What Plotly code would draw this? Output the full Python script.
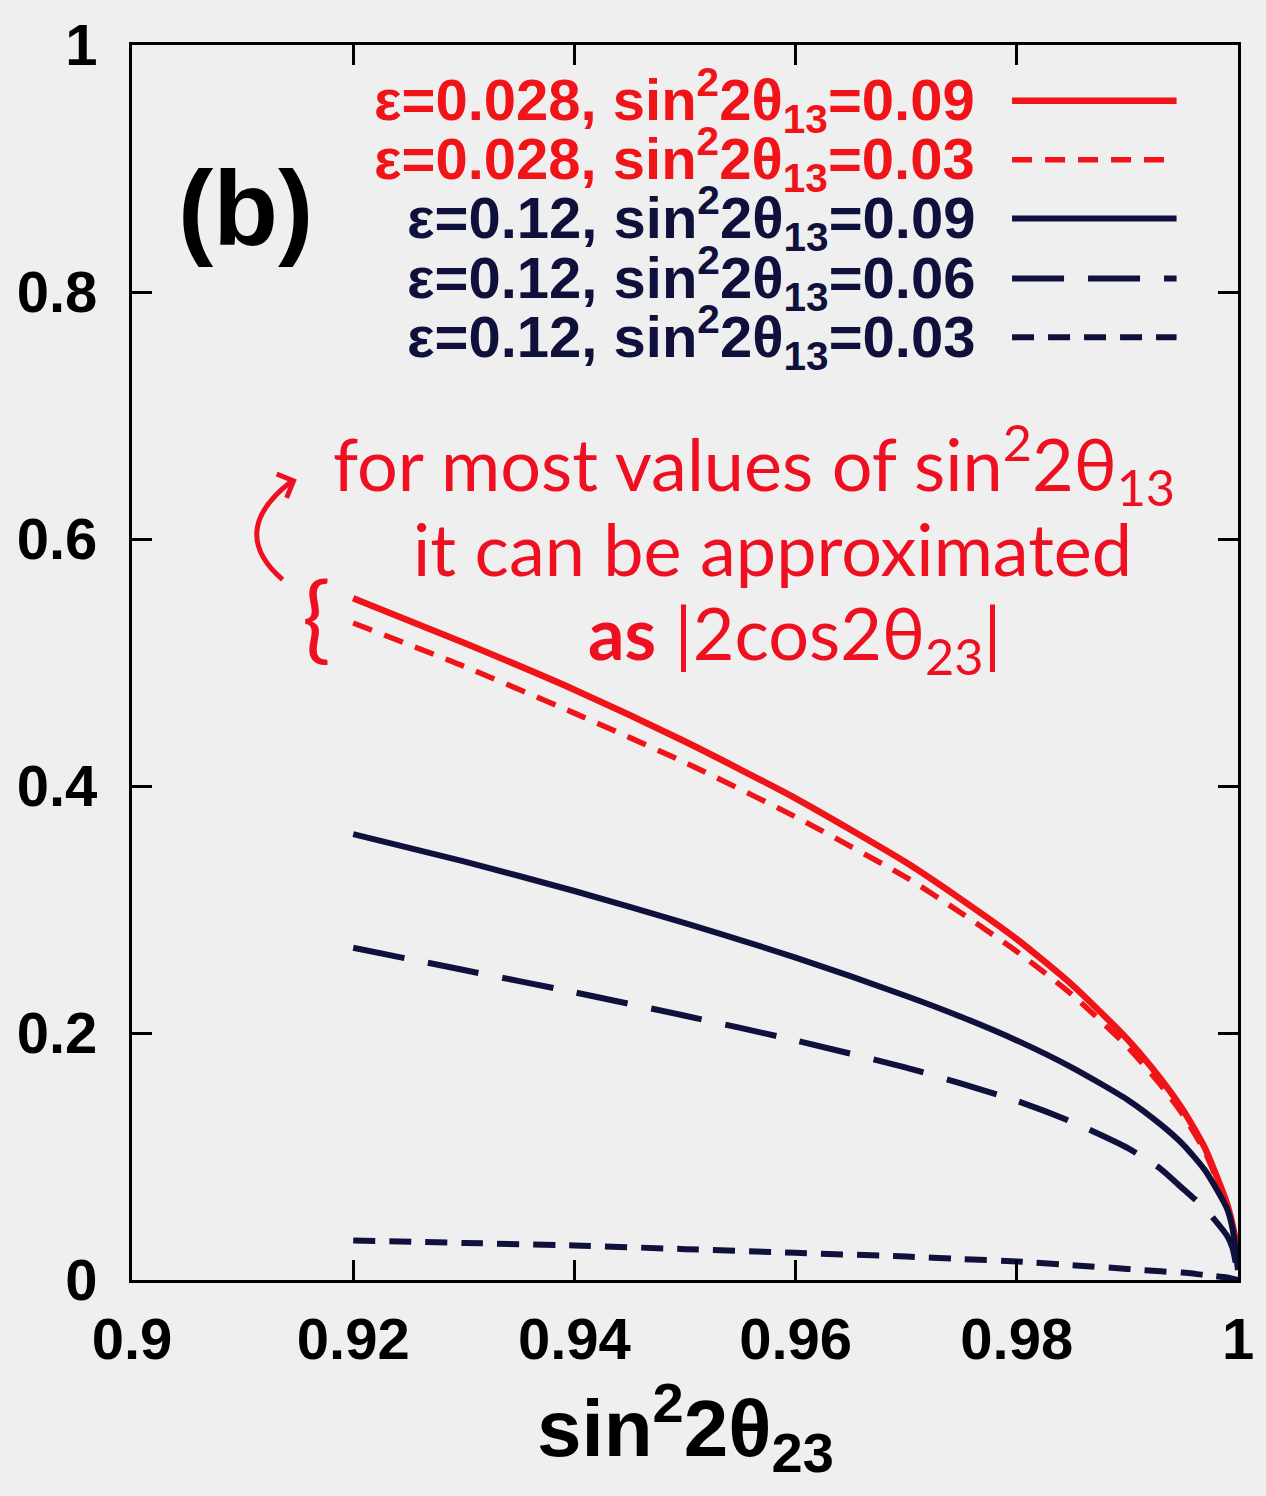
import plotly.graph_objects as go

# ---------------- data ----------------
x_vals = [0.92, 0.93, 0.94, 0.95, 0.96, 0.97, 0.975, 0.98, 0.985, 0.99, 0.993, 0.995, 0.997, 0.999, 0.9995, 1.0]

red_solid_09 = [0.552, 0.516, 0.478, 0.436, 0.390, 0.338, 0.308, 0.276, 0.239, 0.195, 0.163, 0.138, 0.107, 0.062, 0.045, 0.022]
red_dash_03 = [0.532, 0.497, 0.459, 0.419, 0.375, 0.326, 0.297, 0.266, 0.231, 0.189, 0.158, 0.134, 0.104, 0.060, 0.043, 0.020]
navy_solid_09 = [0.361, 0.339, 0.315, 0.289, 0.261, 0.230, 0.213, 0.194, 0.172, 0.146, 0.126, 0.110, 0.089, 0.058, 0.042, 0.008]
navy_ldash_06 = [0.269, 0.251, 0.233, 0.214, 0.194, 0.172, 0.159, 0.145, 0.128, 0.107, 0.090, 0.074, 0.058, 0.036, 0.026, 0.004]
navy_sdash_03 = [0.032, 0.030, 0.028, 0.025, 0.022, 0.019, 0.017, 0.015, 0.012, 0.009, 0.007, 0.006, 0.004, 0.002, 0.001, 0.0]

legend_labels = [
    "ε=0.028, sin<sup>2</sup>2θ<sub>13</sub>=0.09",
    "ε=0.028, sin<sup>2</sup>2θ<sub>13</sub>=0.03",
    "ε=0.12, sin<sup>2</sup>2θ<sub>13</sub>=0.09",
    "ε=0.12, sin<sup>2</sup>2θ<sub>13</sub>=0.06",
    "ε=0.12, sin<sup>2</sup>2θ<sub>13</sub>=0.03",
]
x_ticks = [0.9, 0.92, 0.94, 0.96, 0.98, 1.0]
x_ticktext = ["0.9", "0.92", "0.94", "0.96", "0.98", "1"]
y_ticks = [0, 0.2, 0.4, 0.6, 0.8, 1.0]
y_ticktext = ["0", "0.2", "0.4", "0.6", "0.8", "1"]

# ---------------- styling ----------------
RED = "#f01418"
NAVY = "#10103c"
HAND = "#ee1020"
BG = "#efefef"
W, H = 1266, 1496
L, R, T, B = 132, 18, 42, 216
PW, PH = W - L - R, H - T - B


def px_x(px):
    return (px - L) / PW


def px_y(py):
    return (H - B - py) / PH


series = [
    (red_solid_09, RED, "solid", 6.5),
    (red_dash_03, RED, "20px,13px", 5.5),
    (navy_solid_09, NAVY, "solid", 6),
    (navy_ldash_06, NAVY, "52px,24px", 6),
    (navy_sdash_03, NAVY, "22px,14px", 6),
]

fig = go.Figure()
for ys, col, dash, w in series:
    fig.add_trace(go.Scatter(
        x=x_vals, y=ys, mode="lines",
        line=dict(color=col, dash=dash, width=w, shape="spline", smoothing=0.6),
        showlegend=False, hoverinfo="skip",
    ))

shapes = []
annotations = []

# manual legend (text right-aligned, sample line on right)
row_y = [98, 157, 216, 276, 335]
for (ys, col, dash, w), lab, ry in zip(series, legend_labels, row_y):
    annotations.append(dict(
        x=px_x(985), y=px_y(ry), xref="paper", yref="paper",
        xanchor="right", yanchor="middle", showarrow=False,
        text=lab, font=dict(family="Liberation Sans", size=58, color=col, weight="bold"),
    ))
    shapes.append(dict(
        type="line", xref="paper", yref="paper",
        x0=px_x(1020), x1=px_x(1186), y0=px_y(ry), y1=px_y(ry),
        line=dict(color=col, width=w, dash=dash),
    ))

# panel label
annotations.append(dict(
    x=px_x(247), y=px_y(205), xref="paper", yref="paper",
    xanchor="center", yanchor="middle", showarrow=False,
    text="(b)", font=dict(family="Liberation Sans", size=106, color="black", weight="bold"),
))

# handwritten note
hand_font = dict(family="Lato", size=72, color=HAND)
annotations.append(dict(
    x=px_x(760), y=px_y(462), xref="paper", yref="paper",
    xanchor="center", yanchor="middle", showarrow=False,
    text="for most values of sin<sup>2</sup>2θ<sub>13</sub>", font=hand_font,
))
annotations.append(dict(
    x=px_x(778), y=px_y(546), xref="paper", yref="paper",
    xanchor="center", yanchor="middle", showarrow=False,
    text="it can be approximated", font=hand_font,
))
annotations.append(dict(
    x=px_x(800), y=px_y(636), xref="paper", yref="paper",
    xanchor="center", yanchor="middle", showarrow=False,
    text="<b>as</b> |2cos2θ<sub>23</sub>|", font=hand_font,
))
annotations.append(dict(
    x=px_x(318), y=px_y(612), xref="paper", yref="paper",
    xanchor="center", yanchor="middle", showarrow=False,
    text="{", font=dict(family="Lato", size=95, color=HAND),
))


# curved arrow
def pt(px, py):
    return f"{px_x(px):.5f},{px_y(py):.5f}"


shapes.append(dict(
    type="path", xref="paper", yref="paper",
    path=f"M {pt(284, 578)} Q {pt(228, 530)} {pt(292, 480)}",
    line=dict(color=HAND, width=5),
))
shapes.append(dict(
    type="path", xref="paper", yref="paper",
    path=f"M {pt(278, 472)} L {pt(295, 479)} L {pt(288, 496)}",
    line=dict(color=HAND, width=5),
))

# x-axis title
annotations.append(dict(
    x=px_x(690), y=px_y(1428), xref="paper", yref="paper",
    xanchor="center", yanchor="middle", showarrow=False,
    text="sin<sup>2</sup>2θ<sub>23</sub>",
    font=dict(family="Liberation Sans", size=80, color="black", weight="bold"),
))

axis_common = dict(
    showgrid=False, zeroline=False, showline=True, linecolor="black", linewidth=3,
    mirror="ticks", ticks="inside", ticklen=20, tickwidth=3, tickcolor="black",
    tickfont=dict(family="Liberation Sans", size=58, color="black", weight="bold"),
)

fig.update_layout(
    width=W, height=H,
    margin=dict(l=L, r=R, t=T, b=B),
    paper_bgcolor=BG, plot_bgcolor=BG,
    xaxis=dict(range=[0.9, 1.0], tickvals=x_ticks, ticktext=x_ticktext,
               ticklabelstandoff=6, **axis_common),
    yaxis=dict(range=[0, 1.0], tickvals=y_ticks, ticktext=y_ticktext,
               ticklabelstandoff=20, **axis_common),
    shapes=shapes, annotations=annotations,
)

fig.write_html("out.html")
